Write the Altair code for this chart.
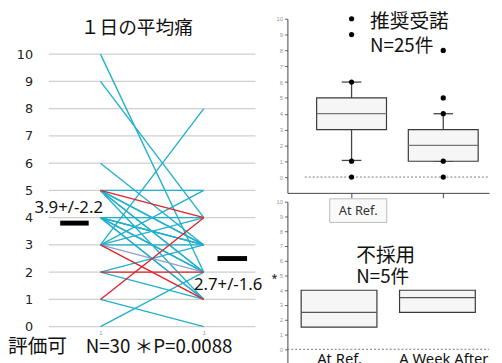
import altair as alt
import pandas as pd

# ---------------- data ----------------
categories = ["At Ref.", "A Week After"]
pain_before = [10, 9, 6, 3, 5, 5, 5, 5, 5, 5, 4, 4, 4, 4, 4, 4, 4, 3, 3, 3, 3, 3, 2, 2, 2, 1, 1, 0, 5, 4]
pain_after = [2, 4, 3, 8, 5, 4, 3, 2, 1, 3, 4, 3, 3, 2, 2, 1, 1, 3, 2, 1, 5, 4, 2, 1, 3, 4, 0, 2, 2, 3]
line_group = ["c", "c", "c", "c", "c", "r", "c", "c", "c", "c", "c", "c", "c", "c", "c",
              "c", "c", "c", "p", "r", "c", "c", "r", "c", "c", "r", "c", "c", "c", "c"]
mean_bar_values = [3.8, 2.5]
y_ticks = list(range(0, 11))

accept_q1 = [3, 1]
accept_q3 = [5, 3]
accept_median = [4, 2]
accept_low = [1.05, 1]
accept_high = [6, 4]
accept_outliers_ref = [10, 9, 6, 1, 0]
accept_outliers_week = [8, 5, 4, 1, 0]

reject_q1 = [1.5, 2.5]
reject_q3 = [4, 4]
reject_median = [2.5, 3.5]

title_text = "１日の平均痛"
left_stat = "3.9+/-2.2"
right_stat = "2.7+/-1.6"
bottom_left = "評価可"
bottom_stats = "N=30 ＊P=0.0088"
accept_title = ["推奨受諾", "N=25件"]
reject_title = ["不採用", "N=5件"]

# ---------------- layout scales ----------------
W, H = 494, 355
LX = ([0.5, 2.5], [41.5, 251.5])
LY = ([0, 10], [321, 44])
TX = ([0.3, 2.5], [284, 489])
TY = ([-1, 10], [185, 8])
BX = ([0.475, 2.525], [284, 489])
BY = ([-1, 10], [359, 194])

JP = "Noto Sans CJK JP"
LAT = "Noto Sans"


def sc(s):
    return alt.Scale(domain=s[0], range=s[1], nice=False, zero=False)


def enc_x(field, s, axis=None):
    return alt.X(field, type="quantitative", scale=sc(s), axis=axis, title=None)


def enc_y(field, s, axis=None):
    return alt.Y(field, type="quantitative", scale=sc(s), axis=axis, title=None)


def text_layer(x, y, sx, sy, label, size, font=JP, align="left", baseline="middle", color="#111"):
    df = pd.DataFrame({"x": [x], "y": [y], "t": [label]})
    return alt.Chart(df).mark_text(align=align, baseline=baseline, fontSize=size, font=font,
                                   color=color).encode(
        x=enc_x("x", sx), y=enc_y("y", sy), text="t:N")


layers = []

# ---------------- left panel ----------------
grid_df = pd.DataFrame({"y": y_ticks, "x": 0.5, "x2": 2.5})
layers.append(alt.Chart(grid_df).mark_rule(color="#cfcfcf", strokeWidth=1.3).encode(
    x=enc_x("x", LX), x2="x2:Q",
    y=enc_y("y", LY, alt.Axis(orient="left", offset=-25, values=y_ticks, labelFontSize=13,
                              labelFont="DejaVu Sans", labelColor="#222", ticks=False, tickSize=0,
                              domain=False, grid=False, labelPadding=0))))

rows = []
for i, (b, a, g) in enumerate(zip(pain_before, pain_after, line_group)):
    rows.append({"id": i, "x": 1, "y": b, "g": g})
    rows.append({"id": i, "x": 2, "y": a, "g": g})
slope = pd.DataFrame(rows)
color_scale = alt.Scale(domain=["c", "p", "r"], range=["#22b0cc", "#8c9fd0", "#e0232b"])
layers.append(alt.Chart(slope[slope.g != "r"]).mark_line(strokeWidth=1.4).encode(
    x=enc_x("x", LX, alt.Axis(orient="bottom", offset=-34, values=[1, 2], labelExpr="'1'",
                              labelFontSize=6, labelColor="#999", ticks=False, domain=False,
                              grid=False, labelPadding=3)),
    y=enc_y("y", LY), detail="id:N",
    color=alt.Color("g:N", scale=color_scale, legend=None)))
layers.append(alt.Chart(slope[slope.g == "r"]).mark_line(strokeWidth=1.4).encode(
    x=enc_x("x", LX), y=enc_y("y", LY), detail="id:N",
    color=alt.Color("g:N", scale=color_scale, legend=None)))

bars = pd.DataFrame({"y": mean_bar_values, "x": [0.61, 2.133], "x2": [0.886, 2.419]})
layers.append(alt.Chart(bars).mark_rule(color="black", strokeWidth=5).encode(
    x=enc_x("x", LX), x2="x2:Q", y=enc_y("y", LY)))

layers.append(text_layer(1.352, 10.97, LX, LY, title_text, 19, align="center"))
layers.append(text_layer(0.362, 4.37, LX, LY, left_stat, 17, font=LAT))
layers.append(text_layer(1.905, 1.52, LX, LY, right_stat, 17, font=LAT))
layers.append(text_layer(2.655, 1.95, LX, LY, "*", 11, font=LAT, baseline="top"))
layers.append(text_layer(0.105, -0.76, LX, LY, bottom_left, 20))
layers.append(text_layer(0.857, -0.76, LX, LY, bottom_stats, 19))

# ---------------- top right: accepted ----------------
top = pd.DataFrame({"c": [1, 2], "q1": accept_q1, "q3": accept_q3, "med": accept_median,
                    "lo": accept_low, "hi": accept_high})
top["l"] = top.c - 0.381
top["r"] = top.c + 0.381
top["cl"] = top.c - 0.107
top["cr"] = top.c + 0.107

zero_top = pd.DataFrame({"x": [0.49], "x2": [2.49], "y": [0]})
layers.append(alt.Chart(zero_top).mark_rule(color="#777", strokeWidth=1, strokeDash=[2, 2]).encode(
    x=enc_x("x", TX), x2="x2:Q", y=enc_y("y", TY)))
layers.append(alt.Chart(top).mark_rule(color="#444", strokeWidth=1.3).encode(
    x=enc_x("c", TX), y=enc_y("q3", TY), y2="hi:Q"))
layers.append(alt.Chart(top).mark_rule(color="#444", strokeWidth=1.3).encode(
    x=enc_x("c", TX), y=enc_y("lo", TY), y2="q1:Q"))
layers.append(alt.Chart(top).mark_rule(color="#444", strokeWidth=1.3).encode(
    x=enc_x("cl", TX), x2="cr:Q", y=enc_y("hi", TY)))
layers.append(alt.Chart(top).mark_rule(color="#444", strokeWidth=1.3).encode(
    x=enc_x("cl", TX), x2="cr:Q", y=enc_y("lo", TY)))
layers.append(alt.Chart(top).mark_rect(fill="#f6f6f6", stroke="#3a3a3a", strokeWidth=1.2).encode(
    x=enc_x("l", TX, alt.Axis(orient="bottom", offset=-170, values=[1, 2], labels=False,
                              tickSize=5, tickColor="#444", domainColor="#444", grid=False)),
    x2="r:Q",
    y=enc_y("q1", TY, alt.Axis(orient="left", offset=-284, values=y_ticks, labelFontSize=6,
                               labelColor="#999", tickSize=3, tickColor="#666",
                               domainColor="#444", labelPadding=2, grid=False)),
    y2="q3:Q"))
layers.append(alt.Chart(top).mark_rule(color="#777", strokeWidth=1.3).encode(
    x=enc_x("l", TX), x2="r:Q", y=enc_y("med", TY)))

pts = pd.DataFrame({"x": [1] * len(accept_outliers_ref) + [2] * len(accept_outliers_week),
                    "y": accept_outliers_ref + accept_outliers_week})
layers.append(alt.Chart(pts).mark_circle(size=28, color="black", opacity=1).encode(
    x=enc_x("x", TX), y=enc_y("y", TY)))

layers.append(text_layer(1.202, 9.81, TX, TY, accept_title[0], 20))
layers.append(text_layer(1.202, 8.29, TX, TY, accept_title[1], 19))

# ---------------- bottom right: rejected ----------------
bot = pd.DataFrame({"c": [1, 2], "q1": reject_q1, "q3": reject_q3, "med": reject_median})
bot["l"] = bot.c - 0.385
bot["r"] = bot.c + 0.385

zero_bot = pd.DataFrame({"x": [0.475], "x2": [2.525], "y": [0]})
layers.append(alt.Chart(zero_bot).mark_rule(color="#777", strokeWidth=1, strokeDash=[2, 2]).encode(
    x=enc_x("x", BX), x2="x2:Q", y=enc_y("y", BY)))
layers.append(alt.Chart(bot).mark_rect(fill="#f6f6f6", stroke="#3a3a3a", strokeWidth=1.2).encode(
    x=enc_x("l", BX), x2="r:Q",
    y=enc_y("q1", BY, alt.Axis(orient="left", offset=-284, values=y_ticks, labelFontSize=6,
                               labelColor="#999", tickSize=3, tickColor="#666",
                               domainColor="#444", labelPadding=2, grid=False)),
    y2="q3:Q"))
layers.append(alt.Chart(bot).mark_rule(color="#555", strokeWidth=1.3).encode(
    x=enc_x("l", BX), x2="r:Q", y=enc_y("med", BY)))

layers.append(text_layer(1.005, -0.2, BX, BY, categories[0], 15, font=LAT, align="center",
                         baseline="top"))
layers.append(text_layer(2.065, -0.2, BX, BY, categories[1], 15, font=LAT, align="center",
                         baseline="top"))

tag = pd.DataFrame({"x": [0.905], "x2": [1.485], "y": [8.6], "y2": [10.2]})
layers.append(alt.Chart(tag).mark_rect(fill="#fafafa", stroke="#bbbbbb", strokeWidth=1).encode(
    x=enc_x("x", BX), x2="x2:Q", y=enc_y("y", BY), y2="y2:Q"))
layers.append(text_layer(1.195, 9.4, BX, BY, categories[0], 13, font=LAT, align="center",
                         color="#333"))

layers.append(text_layer(1.175, 6.33, BX, BY, reject_title[0], 20))
layers.append(text_layer(1.175, 4.87, BX, BY, reject_title[1], 19))

chart = alt.layer(*layers).resolve_scale(x="independent", y="independent").properties(
    width=W, height=H, autosize=alt.AutoSizeParams(type="none"), padding=0
).configure_view(stroke=None)

chart.save("out.html", embed_options={"renderer": "svg", "actions": False})
